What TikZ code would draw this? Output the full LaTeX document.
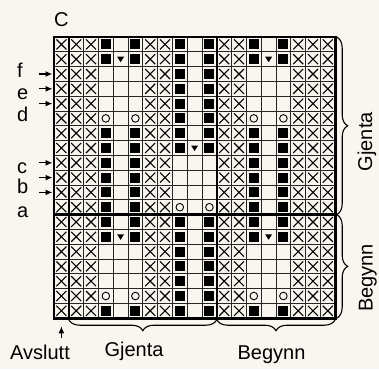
\documentclass[tikz,border=0pt]{standalone}
\usepackage{fontspec}
\setmainfont{Liberation Sans}
\usetikzlibrary{arrows.meta,calc,decorations.pathreplacing}
\definecolor{paper}{RGB}{249,246,239}
\tikzset{
	knitting chart/.style={
		x=1pt, y=-1pt,
		font=\fontsize{20}{24}\selectfont,
		grid line/.style={line width=.7pt, draw=black!85},
		frame line/.style={line width=2.6pt, line cap=rect},
		marker/.style={-{Latex[length=7pt,width=6pt]}, line width=1.3pt},
		brace/.style={decorate, decoration={brace, amplitude=\bbrace}, line width=1.1pt},
		tag/.style={inner sep=0pt, anchor=base west}
		},
	cell size/.store in=\cs,
	cell size=14.8,
	grid x/.store in=\gx,
	grid x=54,
	grid y/.store in=\gy,
	grid y=37,
	brace amplitude/.store in=\bbrace,
	brace amplitude=11pt,
	cross/.pic={\draw[line width=1.1pt] (-5,-5) -- (5,5) (-5,5) -- (5,-5);},
	bside/.pic={\fill (-5,-5) rectangle (5,5);},
	vside/.pic={\fill (-5,-5) rectangle (5,5);},
	oside/.pic={\draw[line width=.9pt] (0,0) circle (3.8);},
	nside/.pic={},
	vmid/.pic={\fill (-3.5,-2.5) -- (3.5,-2.5) -- (0,3) -- cycle;},
	bmid/.pic={}, omid/.pic={}, nmid/.pic={}
}

\begin{document}
\begin{tikzpicture}[knitting chart]
  \fill[paper] (0,0) rectangle (379,369);
  \useasboundingbox (0,0) rectangle (379,369);
  \coordinate (nw) at (\gx,\gy);
  \coordinate (se) at ({\gx+19*\cs},{\gy+19*\cs});
  \foreach \r in {1,...,19}
    \foreach \c in {1,...,19}
      \coordinate (c-\r-\c) at ({\gx+(\c-.5)*\cs},{\gy+(\r-.5)*\cs});
  % thin cell lines
  \foreach \i in {1,...,18} {
    \draw[grid line] ({\gx+\i*\cs},\gy) -- ({\gx+\i*\cs},{\gy+19*\cs});
    \draw[grid line] (\gx,{\gy+\i*\cs}) -- ({\gx+19*\cs},{\gy+\i*\cs});
  }
  \foreach \c in {1,2,3,7,8,12,13,17,18,19}
    \foreach \r in {1,...,19}
      \pic at (c-\r-\c) {cross};
  \foreach \r/\a/\b in {1/b/b,2/v/b,3/n/b,4/n/b,5/n/b,6/o/b,7/b/b,8/b/v,9/b/n,10/b/n,
                        11/b/n,12/b/o,13/b/b,14/v/b,15/n/b,16/n/b,17/n/b,18/o/b,19/b/b} {
    \foreach \i/\j/\k in {4/5/6,14/15/16} {
      \pic at (c-\r-\i) {\a side};
      \pic at (c-\r-\j) {\a mid};
      \pic at (c-\r-\k) {\a side};
    }
    \pic at (c-\r-9) {\b side};
    \pic at (c-\r-10) {\b mid};
    \pic at (c-\r-11) {\b side};
  }
  \draw[frame line] (nw) rectangle (se);
  \draw[frame line] ({\gx+\cs},\gy) -- ({\gx+\cs},{\gy+19*\cs});
  \draw[frame line] ({\gx+11*\cs},\gy) -- ({\gx+11*\cs},{\gy+19*\cs});
  \draw[frame line] (\gx,{\gy+12*\cs}) -- ({\gx+19*\cs},{\gy+12*\cs});
  % row markers
  \foreach \r in {3,4,5,9,10,11} {
    \coordinate (tip\r) at ({\gx-1.5},{\gy+(\r-.5)*\cs});
    \coordinate (tail\r) at ({\gx-15},{\gy+(\r-.5)*\cs});
    \draw[marker] (tail\r) -- (tip\r);
  }
  \node[tag] (C) at (54,27) {C};
  \node[tag] (f) at (17,77) {f};
  \node[tag] (e) at (17,99) {e};
  \node[tag] (d) at (17,121.5) {d};
  \node[tag] (c) at (17,173) {c};
  \node[tag] (b) at (17,193) {b};
  \node[tag] (a) at (17,217) {a};
  \coordinate (end tip) at ($(c-19-1)+(0,15.5)$);
  \coordinate (end tail) at ($(c-19-1)+(0,27)$);
  \draw[marker] (end tail) -- (end tip);
  \node[tag] (avslutt) at (10,359) {Avslutt};
  \draw[brace] ({\gx+11*\cs},{\gy+19*\cs+1.5}) -- ({\gx+\cs},{\gy+19*\cs+1.5});
  \draw[brace] ({\gx+19*\cs},{\gy+19*\cs+1.5}) -- ({\gx+11*\cs},{\gy+19*\cs+1.5});
  \node[tag, anchor=base] (gjenta) at (134,356) {Gjenta};
  \node[tag, anchor=base] (begynn) at (271.5,359) {Begynn};
  \draw[brace] ({\gx+19*\cs+1.5},\gy) -- ({\gx+19*\cs+1.5},{\gy+12*\cs});
  \draw[brace] ({\gx+19*\cs+1.5},{\gy+12*\cs}) -- ({\gx+19*\cs+1.5},{\gy+19*\cs});
  \node[tag, anchor=base, rotate=90] (gjenta side) at (372,141.7) {Gjenta};
  \node[tag, anchor=base, rotate=90] (begynn side) at (372.5,278) {Begynn};
\end{tikzpicture}
\end{document}
